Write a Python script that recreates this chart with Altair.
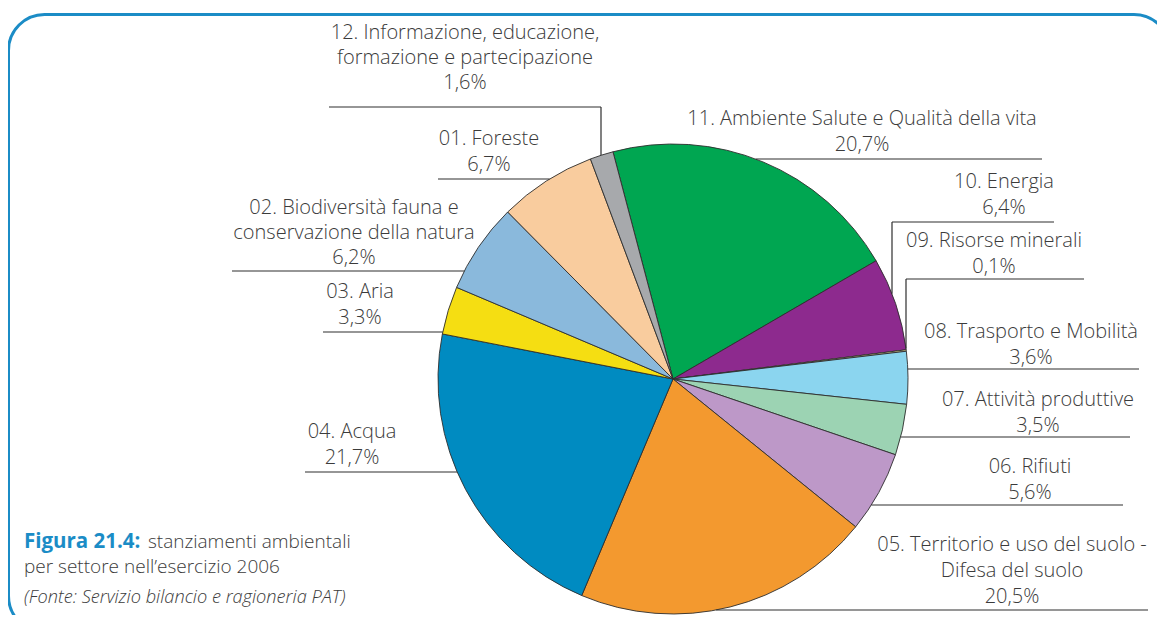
import math
import altair as alt
import pandas as pd

# ---------------- data ----------------
codes = ["11", "10", "09", "08", "07", "06", "05", "04", "03", "02", "01", "12"]
names = [
    "Ambiente Salute e Qualità della vita",
    "Energia",
    "Risorse minerali",
    "Trasporto e Mobilità",
    "Attività produttive",
    "Rifiuti",
    "Territorio e uso del suolo - Difesa del suolo",
    "Acqua",
    "Aria",
    "Biodiversità fauna e conservazione della natura",
    "Foreste",
    "Informazione, educazione, formazione e partecipazione",
]
shares = [20.7, 6.4, 0.1, 3.6, 3.5, 5.6, 20.5, 21.7, 3.3, 6.2, 6.7, 1.6]
colors = ["#00a651", "#8d2a8e", "#fbe9a0", "#8bd5ef", "#9cd3b3", "#bd98c8",
          "#f3992f", "#008bc1", "#f5de12", "#8ab9dc", "#f9cc9e", "#a7a9ac"]
# how each label is broken over lines (the percentage is added below)
label_breaks = [
    ["11. Ambiente Salute e Qualità della vita"],
    ["10. Energia"],
    ["09. Risorse minerali"],
    ["08. Trasporto e Mobilità"],
    ["07. Attività produttive"],
    ["06. Rifiuti"],
    ["05. Territorio e uso del suolo -", "Difesa del suolo"],
    ["04. Acqua"],
    ["03. Aria"],
    ["02. Biodiversità fauna e", "conservazione della natura"],
    ["01. Foreste"],
    ["12. Informazione, educazione,", "formazione e partecipazione"],
]

# ---------------- layout (image pixel coordinates) ----------------
W, H = 1149, 607
X0, Y0 = 8, 8
CX, CY, R = 673, 379, 235
START_DEG = -14.8

label_cx = [862, 1004, 994, 1031, 1038, 1030, 1012, 352, 360, 354, 489, 465]
label_y0 = [125, 188, 247, 338, 406, 473, 551, 438, 298, 214, 145, 39]
label_step = [26, 26, 26, 26, 26, 26, 26, 26, 26, 25, 26, 25]
lead_y = [159, 222, 279, 369, 437, 505, 610, 472, 332, 271, 179, 107]
lead_outer_x = [1042, 1054, 1084, 1139, 1130, 1123, 1148, 305, 323, 232, 438, 329]
# labels whose leader bends down to the pie at a given x
lead_elbow_x = {1: 892, 2: 906, 11: 601}


def edge_x(y, side):
    d = math.sqrt(max(R * R - (y - CY) ** 2, 0))
    return CX + d if side > 0 else CX - d


def edge_y(x):
    d = math.sqrt(max(R * R - (x - CX) ** 2, 0))
    return CY - d


pie = pd.DataFrame({
    "code": codes,
    "name": names,
    "share": shares,
    "ord": list(range(len(codes))),
})

text_rows = []
for i, lines in enumerate(label_breaks):
    pct = f"{shares[i]:.1f}".replace(".", ",") + "%"
    for j, t in enumerate(lines + [pct]):
        text_rows.append({"x": label_cx[i], "y": label_y0[i] + j * label_step[i], "t": t})
texts = pd.DataFrame(text_rows)

rule_rows = []
for i in range(len(codes)):
    y = lead_y[i]
    ox = lead_outer_x[i]
    if i in lead_elbow_x:
        ex = lead_elbow_x[i]
        rule_rows.append({"x": ox, "x2": ex, "y": y, "y2": y})
        rule_rows.append({"x": ex, "x2": ex, "y": y, "y2": edge_y(ex)})
    else:
        side = 1 if ox > CX else -1
        rule_rows.append({"x": ox, "x2": edge_x(y, side), "y": y, "y2": y})
rules = pd.DataFrame(rule_rows)

xs = alt.Scale(domain=[X0, X0 + W], range=[0, W])
ys = alt.Scale(domain=[Y0, Y0 + H], range=[0, H])

FONT = "Open Sans"
TXT = "#3b3b3b"
BLUE = "#1b8cc6"

frame = alt.Chart(pd.DataFrame({"a": [8.5], "a2": [1170], "b": [14.5], "b2": [632]})).mark_rect(
    fillOpacity=0, stroke=BLUE, strokeWidth=3, cornerRadius=36, clip=True
).encode(
    x=alt.X("a:Q", scale=xs, axis=None),
    x2="a2:Q",
    y=alt.Y("b:Q", scale=ys, axis=None),
    y2="b2:Q",
)

arcs = alt.Chart(pie).mark_arc(radius=R, stroke="#2e2e2e", strokeWidth=0.9).encode(
    theta=alt.Theta("share:Q", stack=True,
                    scale=alt.Scale(range=[math.radians(START_DEG),
                                           math.radians(START_DEG) + 2 * math.pi])),
    color=alt.Color("code:N", scale=alt.Scale(domain=codes, range=colors), legend=None),
    order=alt.Order("ord:Q"),
    x=alt.value(CX - X0),
    y=alt.value(CY - Y0),
)

leaders = alt.Chart(rules).mark_rule(color="#2e2e2e", strokeWidth=1.2).encode(
    x=alt.X("x:Q", scale=xs, axis=None),
    x2="x2:Q",
    y=alt.Y("y:Q", scale=ys, axis=None),
    y2="y2:Q",
)

labels = alt.Chart(texts).mark_text(
    font=FONT, fontSize=20, fontWeight=300, color=TXT, align="center", baseline="alphabetic"
).encode(
    x=alt.X("x:Q", scale=xs, axis=None),
    y=alt.Y("y:Q", scale=ys, axis=None),
    text="t:N",
)

cap_bold = alt.Chart(pd.DataFrame({"x": [24], "y": [548], "t": ["Figura 21.4:"]})).mark_text(
    font=FONT, fontSize=20.5, fontWeight="bold", color=BLUE, align="left", baseline="alphabetic"
).encode(x=alt.X("x:Q", scale=xs, axis=None), y=alt.Y("y:Q", scale=ys, axis=None), text="t:N")

cap_rest = alt.Chart(pd.DataFrame({
    "x": [148, 24], "y": [548, 573],
    "t": ["stanziamenti ambientali", "per settore nell\u2019esercizio 2006"],
})).mark_text(
    font=FONT, fontSize=19, fontWeight=300, color=TXT, align="left", baseline="alphabetic"
).encode(x=alt.X("x:Q", scale=xs, axis=None), y=alt.Y("y:Q", scale=ys, axis=None), text="t:N")

cap_src = alt.Chart(pd.DataFrame({"x": [24], "y": [603], "t": ["(Fonte: Servizio bilancio e ragioneria PAT)"]})).mark_text(
    font=FONT, fontSize=18.2, fontWeight=300, fontStyle="italic", color=TXT, align="left", baseline="alphabetic"
).encode(x=alt.X("x:Q", scale=xs, axis=None), y=alt.Y("y:Q", scale=ys, axis=None), text="t:N")

chart = alt.layer(frame, arcs, leaders, labels, cap_bold, cap_rest, cap_src).properties(
    width=W, height=H, autosize=alt.AutoSizeParams(type="none"), padding=0
).configure_view(stroke=None)

chart.save("out.html", embed_options={"renderer": "svg", "actions": False})
